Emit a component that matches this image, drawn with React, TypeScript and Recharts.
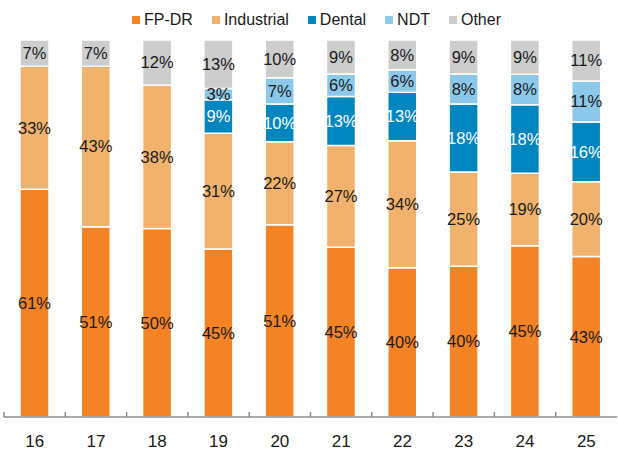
import React from 'react';
import { BarChart, Bar, XAxis, YAxis, LabelList } from 'recharts';

const years = ['16', '17', '18', '19', '20', '21', '22', '23', '24', '25'];
const fpdr = [61, 51, 50, 45, 51, 45, 40, 40, 45, 43];
const industrial = [33, 43, 38, 31, 22, 27, 34, 25, 19, 20];
const dental = [0, 0, 0, 9, 10, 13, 13, 18, 18, 16];
const ndt = [0, 0, 0, 3, 7, 6, 6, 8, 8, 11];
const other = [7, 7, 12, 13, 10, 9, 8, 9, 9, 11];

const series = [
  { key: 'FP-DR', color: '#F48326', text: '#1a1a1a' },
  { key: 'Industrial', color: '#F0B26C', text: '#1a1a1a' },
  { key: 'Dental', color: '#0086BE', text: '#ffffff' },
  { key: 'NDT', color: '#8CC8EA', text: '#1a1a1a' },
  { key: 'Other', color: '#CDCDCE', text: '#1a1a1a' },
];

const data = years.map((year, i) => ({
  year,
  'FP-DR': fpdr[i],
  Industrial: industrial[i],
  Dental: dental[i],
  NDT: ndt[i],
  Other: other[i],
}));

const font = '"Liberation Sans", Arial, sans-serif';

function Tick(props: any) {
  const { x, y, payload, width } = props;
  const half = width / years.length / 2;
  return (
    <g>
      <line x1={x - half} x2={x - half} y1={y - 5} y2={y} stroke="#8c8c8c" strokeWidth={1.5} />
      <text x={x} y={y + 30} textAnchor="middle" fontSize={17} fill="#1a1a1a" fontFamily={font}>
        {payload.value}
      </text>
    </g>
  );
}

function LegendRow() {
  return (
    <div
      style={{
        position: 'absolute',
        top: 11,
        left: 11,
        width: 630,
        display: 'flex',
        justifyContent: 'center',
        fontFamily: font,
        fontSize: 16,
        color: '#1a1a1a',
      }}
    >
      {series.map((s) => (
        <div key={s.key} style={{ display: 'flex', alignItems: 'center', marginRight: 19 }}>
          <span style={{ width: 8, height: 8, background: s.color, marginRight: 4, display: 'inline-block' }} />
          <span>{s.key}</span>
        </div>
      ))}
    </div>
  );
}

export default function App() {
  return (
    <div style={{ position: 'absolute', left: 0, top: 0, width: 618, height: 452, background: '#fff', overflow: 'hidden' }}>
      <LegendRow />
      <BarChart
        width={618}
        height={452}
        data={data}
        stackOffset="expand"
        margin={{ top: 40, right: 1, left: 4, bottom: 0 }}
        barSize={29}
      >
        <XAxis
          dataKey="year"
          height={35}
          tickSize={0}
          tickMargin={0}
          axisLine={{ stroke: '#8c8c8c', strokeWidth: 1.5 }}
          tickLine={false}
          tick={<Tick />}
          interval={0}
        />
        <YAxis hide domain={[0, 1]} />
        {series.map((s) => (
          <Bar
            key={s.key}
            dataKey={s.key}
            stackId="a"
            fill={s.color}
            stroke="#ffffff"
            strokeWidth={1.5}
            isAnimationActive={false}
          >
            <LabelList
              dataKey={s.key}
              position="center"
              fill={s.text}
              fontSize={16.5}
              fontFamily={font}
              formatter={(v: any) => (v ? `${v}%` : '')}
            />
          </Bar>
        ))}
      </BarChart>
    </div>
  );
}
